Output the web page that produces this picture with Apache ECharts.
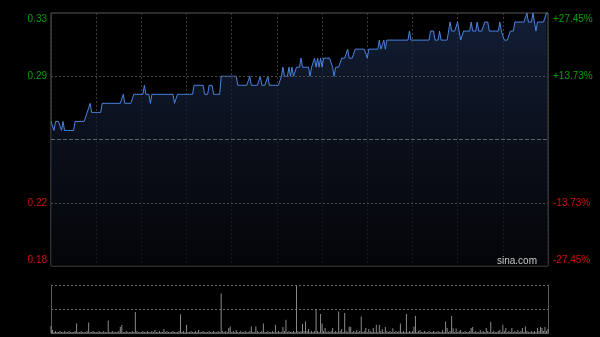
<!DOCTYPE html>
<html>
<head>
<meta charset="utf-8">
<style>
html,body{margin:0;padding:0;background:#000;}
#c{width:600px;height:337px;}
</style>
<script src="https://cdn.jsdelivr.net/npm/echarts@6/dist/echarts.min.js"></script>
</head>
<body>
<div id="c"></div>
<script>
// ---- data ----
var prevClose = 0.255;
var priceMin = 0.185, priceMax = 0.325;
var priceTickValues = [0.185, 0.22, 0.29, 0.325];
var priceTickLabels = ['0.18', '0.22', '0.29', '0.33'];
var pctTickValues = [-27.45, -13.725, 0, 13.725, 27.45];
var pctTickLabels = ['-27.45%', '-13.73%', '', '+13.73%', '+27.45%'];

var prices = [
.265,.265,.26,.265,.265,.265,.265,.26,.265,.26,
.26,.26,.26,.26,.26,.26,.265,.265,.265,.265,
.265,.265,.265,.265,.27,.27,.275,.27,.27,.27,
.27,.27,.27,.27,.275,.275,.275,.275,.275,.275,
.275,.275,.275,.275,.275,.275,.275,.275,.28,.275,
.275,.275,.275,.275,.275,.28,.28,.28,.28,.28,
.28,.28,.285,.28,.28,.28,.275,.28,.28,.28,
.28,.28,.28,.28,.28,.28,.28,.28,.28,.28,
.28,.28,.275,.275,.28,.28,.28,.28,.28,.28,
.28,.28,.28,.28,.28,.285,.285,.285,.285,.285,
.285,.285,.28,.28,.28,.285,.285,.285,.28,.28,
.28,.28,.28,.29,.29,.29,.29,.29,.29,.29,
.29,.29,.29,.29,.285,.285,.285,.285,.285,.285,
.285,.285,.29,.285,.285,.285,.285,.285,.285,.29,
.285,.285,.285,.285,.29,.285,.285,.285,.285,.285,
.285,.285,.285,.29,.295,.29,.29,.29,.295,.29,
.295,.29,.29,.295,.295,.295,.3,.295,.295,.295,
.295,.295,.29,.295,.295,.3,.295,.3,.295,.3,
.295,.3,.3,.3,.3,.3,.3,.295,.29,.295,
.295,.295,.295,.3,.3,.3,.3,.305,.3,.3,
.3,.3,.305,.305,.305,.305,.305,.305,.305,.305,
.3,.305,.305,.305,.305,.305,.305,.305,.31,.305,
.305,.31,.305,.31,.31,.31,.31,.31,.31,.31,
.31,.31,.31,.31,.31,.31,.31,.31,.315,.31,
.31,.31,.31,.31,.31,.31,.31,.31,.31,.31,
.31,.31,.315,.315,.315,.31,.31,.31,.315,.31,
.31,.31,.31,.31,.31,.32,.315,.315,.315,.315,
.32,.315,.31,.31,.315,.315,.315,.315,.315,.32,
.315,.315,.315,.32,.315,.315,.315,.315,.32,.32,
.32,.315,.315,.315,.315,.315,.315,.315,.32,.315,
.315,.31,.31,.31,.31,.315,.315,.315,.32,.32,
.32,.32,.32,.32,.32,.32,.325,.32,.32,.32,
.325,.32,.315,.32,.32,.32,.32,.32,.32,.325,
.325
];

var volumes = [
7,3,1,2,1,1,2,1,1,2,
1,1,2,1,1,1,2,9.5,1,1,
2,1,1,1,2,10.5,1,1,2,1,
1,1,2,1,1,2,1,1,12.5,1,
1,2,1,1,1,2,6,8,1,1,
2,1,1,1,2,1,21,2,1,1,
1,2,1,1,2,1,1,2,1,3,
1,1,2,1,1,4,1,2,1,1,
1,2,1,1,1,2,18.7,1,2,1,
8,1,1,2,1,1,2,1,3,1,
1,2,1,1,1,2,1,1,2,1,
1,2,1,39.5,2,1,2,1,5,6.6,
1,2,1,3,1,1,2,1,1,2,
1,1,2,6.6,1,1,6.6,2,1,1,
2,9.5,1,1,2,1,1,2,1,8.3,
1,2,1,1,6,2,13.3,1,2,1,
1,2,1,47,2,1,2,9.3,2,11.5,
2,4,1,2,1,2,24,2,1,19,
9.6,2,5,1,2,1,2,5,1,2,
1,21.6,2,4,1,20,2,1,6.6,6,
1,2,1,3,1,2,16.5,1,2,5,
1,4,2,1,5,1,8.3,1,8,2,
4,1,6,2,1,2,1,4.7,1,2,
1,2,9.5,1,2,1,19,1,2,1,
2,6.6,17,1,2,3,1,1,2,1,
1,2,1,1,2,1,1,2,1,1,
3,1,11.5,5,1,2,17,4.6,1,4.6,
1,2,3,1,1,2,1,1,2,5,
6,1,2,1,1,3,1,2,1,5,
2,1,11.3,1,2,1,1,2,3,1,
8.3,2,5,1,2,1,5,1,2,1,
3,1,2,5,1,6.6,2,1,1,2,
1,2,1,5,2,6,5,2,6,2,
4
];

// minute categories: 09:30-12:00, 13:01-16:00
var times = [];
(function(){
  function pad(n){return (n<10?'0':'')+n;}
  for (var m = 9*60+30; m <= 12*60; m++) times.push(pad(Math.floor(m/60))+':'+pad(m%60));
  for (var m2 = 13*60+1; m2 <= 16*60; m2++) times.push(pad(Math.floor(m2/60))+':'+pad(m2%60));
})();

function nearestLabel(vals, labels, v){
  var best = 0, d = Infinity;
  for (var i=0;i<vals.length;i++){ var dd=Math.abs(vals[i]-v); if(dd<d){d=dd;best=i;} }
  return labels[best];
}

var GREEN = '#0a9e0a', RED = '#d01010';
var FONT = 'Liberation Sans, Arial, sans-serif';

var chart = echarts.init(document.getElementById('c'), null, {renderer:'canvas'});
chart.setOption({
  backgroundColor: '#000',
  animation: false,
  grid: [
    {left: 51, top: 13, width: 497, height: 253, show: true, borderColor: '#5a5a5a', borderWidth: 1, backgroundColor: 'transparent'},
    {left: 51, top: 285, width: 497, height: 48, show: false}
  ],
  xAxis: [
    {type: 'category', gridIndex: 0, data: times, boundaryGap: false,
     axisLine: {show: false}, axisTick: {show: false}, axisLabel: {show: false},
     splitLine: {show: true, interval: 29, lineStyle: {color: '#3c3c3c', type: [2, 2], width: 1}}},
    {type: 'category', gridIndex: 1, data: times, boundaryGap: false,
     axisLine: {show: true, lineStyle: {color: '#5a5a5a'}}, axisTick: {show: false}, axisLabel: {show: false},
     splitLine: {show: false}}
  ],
  yAxis: [
    {type: 'value', gridIndex: 0, position: 'left', min: priceMin, max: priceMax,
     axisLine: {show: false}, axisTick: {show: false, customValues: priceTickValues}, splitLine: {show: false},
     axisLabel: {show: true, customValues: priceTickValues, margin: 4, fontSize: 10, fontFamily: FONT,
       formatter: function(v){
         var t = nearestLabel(priceTickValues, priceTickLabels, v);
         if (Math.abs(v - priceMax) < 1e-6) return '{gt|' + t + '}';
         if (Math.abs(v - priceMin) < 1e-6) return '{rb|' + t + '}';
         return (v > prevClose ? '{g|' : '{r|') + t + '}';
       },
       rich: {
         g: {color: GREEN, fontSize: 10, fontFamily: FONT},
         r: {color: RED, fontSize: 10, fontFamily: FONT},
         gt: {color: GREEN, fontSize: 10, fontFamily: FONT, padding: [12, 0, 0, 0]},
         rb: {color: RED, fontSize: 10, fontFamily: FONT, padding: [0, 0, 12, 0]}
       }}},
    {type: 'value', gridIndex: 0, position: 'right', min: pctTickValues[0], max: pctTickValues[4], interval: 13.725,
     axisLine: {show: false}, axisTick: {show: false}, splitLine: {show: false},
     axisLabel: {show: true, margin: 5, fontSize: 10, fontFamily: FONT,
       formatter: function(v){
         var t = nearestLabel(pctTickValues, pctTickLabels, v);
         if (t === '') return '';
         if (v > 27) return '{gt|' + t + '}';
         if (v < -27) return '{rb|' + t + '}';
         return (v > 0 ? '{g|' : '{r|') + t + '}';
       },
       rich: {
         g: {color: GREEN, fontSize: 10, fontFamily: FONT},
         r: {color: RED, fontSize: 10, fontFamily: FONT},
         gt: {color: GREEN, fontSize: 10, fontFamily: FONT, padding: [12, 0, 0, 0]},
         rb: {color: RED, fontSize: 10, fontFamily: FONT, padding: [0, 0, 12, 0]}
       }}},
    {type: 'value', gridIndex: 1, position: 'left', min: 0, max: 48, interval: 24,
     axisLine: {show: true, lineStyle: {color: '#5a5a5a'}}, axisTick: {show: false}, axisLabel: {show: false},
     splitLine: {show: true, lineStyle: {color: '#6a6a6a', type: [2, 2], width: 1}}},
    {type: 'value', gridIndex: 1, position: 'right', min: 0, max: 48, interval: 24,
     axisLine: {show: true, lineStyle: {color: '#5a5a5a'}}, axisTick: {show: false}, axisLabel: {show: false},
     splitLine: {show: false}}
  ],
  series: [
    {type: 'line', xAxisIndex: 0, yAxisIndex: 0, data: prices, showSymbol: false, symbol: 'none',
     lineStyle: {color: '#4a84e0', width: 1},
     areaStyle: {origin: 'start', color: new echarts.graphic.LinearGradient(0, 0, 0, 1, [
        {offset: 0, color: '#1b2b4c'}, {offset: 0.5, color: '#0f1626'}, {offset: 1, color: '#05070b'}])},
     markLine: {silent: true, symbol: 'none', label: {show: false}, animation: false, precision: 4,
       data: [
         {yAxis: 0.29, lineStyle: {color: '#4a4a4a', type: [2, 2], width: 1}},
         {yAxis: 0.22, lineStyle: {color: '#4a4a4a', type: [2, 2], width: 1}},
         {yAxis: prevClose, lineStyle: {color: '#5c6370', type: [4, 2], width: 1}}
       ]},
     z: 3},
    {type: 'bar', xAxisIndex: 1, yAxisIndex: 2, data: volumes, barWidth: 1,
     itemStyle: {color: '#8a8a8a'}, z: 3}
  ],
  graphic: [
    {type: 'text', right: 63, top: 256, style: {text: 'sina.com', fill: '#c8c8c8', fontSize: 10, fontFamily: FONT}, z: 10}
  ]
});
</script>
</body>
</html>
